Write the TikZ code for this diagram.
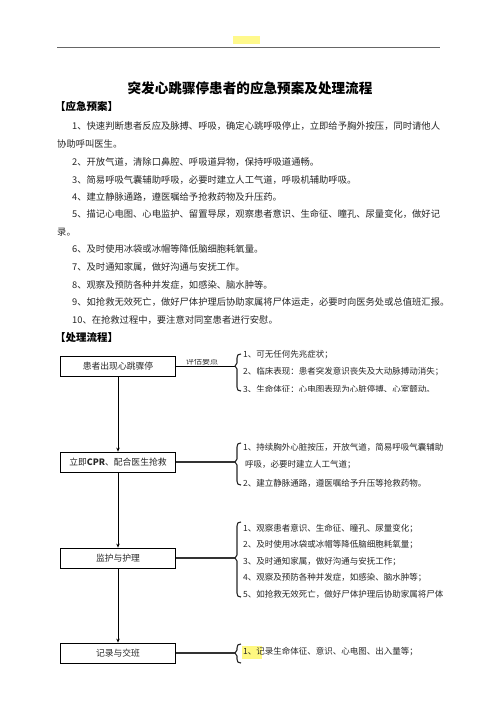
\documentclass[tikz,border=0pt]{standalone}
\usepackage{fontspec}
\setmainfont{Noto Sans CJK SC}
\usetikzlibrary{arrows.meta}
\tikzset{
  body/.style={anchor=west,inner sep=0pt,font=\fontsize{9.3}{11}\selectfont,text=black!85},
  side/.style={anchor=west,inner sep=0pt,font=\fontsize{8.5}{10}\selectfont,text=black!85},
  head/.style={anchor=west,inner sep=0pt,font=\fontsize{10.5}{12}\selectfont\bfseries},
  flowbox/.style={draw,line width=0.8pt,minimum width=115pt,minimum height=20pt,inner sep=0pt,font=\fontsize{8.8}{10}\selectfont,text=black!85},
  link/.style={line width=1.4pt,black!80},
  flowarrow/.style={line width=0.8pt,-{Stealth[length=4pt,width=3.5pt]}},
  bracepath/.style={line width=1.1pt,black!85,line join=round}
}
\newcommand{\mybrace}[4]{% x, top, mid, bottom
  \draw[bracepath] (#1+4,#2) .. controls (#1+1,#2) and (#1,#2+1) .. (#1,#2+4)
    -- (#1,#3-3) -- (#1-2,#3) -- (#1,#3+3) -- (#1,#4-4)
    .. controls (#1,#4-1) and (#1+1,#4) .. (#1+4,#4);}
\begin{document}
\begin{tikzpicture}[x=1pt,y=-1pt]
\useasboundingbox (0,0) rectangle (496,702);
% header
\fill[yellow!45] (233,36) rectangle (260,44);
\draw[line width=0.5pt,black!60] (57,47) -- (440,47);
% title
\node[anchor=center,inner sep=0pt,font=\fontsize{13.6}{15}\selectfont\bfseries] (title) at (250,88) {突发心跳骤停患者的应急预案及处理流程};
\node[head] (h1) at (55,106) {【应急预案】};
\node[body] (l1) at (72,126) {1、快速判断患者反应及脉搏、呼吸，确定心跳呼吸停止，立即给予胸外按压，同时请他人};
\node[body] (l2) at (57,144) {协助呼叫医生。};
\node[body] (l3) at (72,162) {2、开放气道，清除口鼻腔、呼吸道异物，保持呼吸道通畅。};
\node[body] (l4) at (72,180) {3、简易呼吸气囊辅助呼吸，必要时建立人工气道，呼吸机辅助呼吸。};
\node[body] (l5) at (72,197) {4、建立静脉通路，遵医嘱给予抢救药物及升压药。};
\node[body] (l6) at (72,214) {5、描记心电图、心电监护、留置导尿，观察患者意识、生命征、瞳孔、尿量变化，做好记};
\node[body] (l7) at (57,232) {录。};
\node[body] (l8) at (72,249) {6、及时使用冰袋或冰帽等降低脑细胞耗氧量。};
\node[body] (l9) at (72,267) {7、及时通知家属，做好沟通与安抚工作。};
\node[body] (l10) at (72,285) {8、观察及预防各种并发症，如感染、脑水肿等。};
\node[body] (l11) at (72,302) {9、如抢救无效死亡，做好尸体护理后协助家属将尸体运走，必要时向医务处或总值班汇报。};
\node[body] (l12) at (72,320) {10、在抢救过程中，要注意对同室患者进行安慰。};
\node[head] (h2) at (55,338) {【处理流程】};
% flow boxes
\node[flowbox] (b1) at (118,366) {患者出现心跳骤停};
\node[flowbox] (b2) at (118,462) {立即\textbf{CPR}、配合医生抢救};
\node[flowbox] (b3) at (118,558) {监护与护理};
\node[flowbox] (b4) at (118,653) {记录与交班};
\draw[flowarrow] (b1.south) -- (b2.north);
\draw[flowarrow] (b2.south) -- (b3.north);
\draw[flowarrow] (b3.south) -- (b4.north);
% connectors to braces
\coordinate (c1) at (235,366);
\coordinate (c2) at (235,462);
\coordinate (c3) at (235,558);
\coordinate (c4) at (235,653);
\draw[line width=0.8pt] (b1.east) -- (c1);
\draw[link] (b2.east) -- (c2);
\draw[link] (b3.east) -- (c3);
\draw[link] (b4.east) -- (c4);
\begin{scope}
\clip (180,359.5) rectangle (230,365);
\node[anchor=center,inner sep=0pt,font=\fontsize{8}{9}\selectfont,text=black!80] (lab) at (202,361.5) {评估要点};
\end{scope}
% braces
\mybrace{237}{354}{366}{391}
\mybrace{237}{443}{462}{485}
\mybrace{237}{522}{558}{597}
\mybrace{237}{644}{653}{663}
% side texts
\begin{scope}
\clip (240,340) rectangle (460,391);
\node[side] (s11) at (243,355) {1、可无任何先兆症状；};
\node[side] (s12) at (243,372) {2、临床表现：患者突发意识丧失及大动脉搏动消失；};
\node[side] (s13) at (243,389) {3、生命体征：心电图表现为心脏停搏、心室颤动。};
\end{scope}
\begin{scope}
\clip (240,435) rectangle (460,486);
\node[side] (s21) at (243,447) {1、持续胸外心脏按压，开放气道，简易呼吸气囊辅助};
\node[side] (s22) at (245,465) {呼吸，必要时建立人工气道；};
\node[side] (s23) at (243,483) {2、建立静脉通路，遵医嘱给予升压等抢救药物。};
\end{scope}
\node[side] (s31) at (243,529) {1、观察患者意识、生命征、瞳孔、尿量变化；};
\node[side] (s32) at (243,545) {2、及时使用冰袋或冰帽等降低脑细胞耗氧量；};
\node[side] (s33) at (243,562) {3、及时通知家属，做好沟通与安抚工作；};
\node[side] (s34) at (243,578) {4、观察及预防各种并发症，如感染、脑水肿等；};
\node[side] (s35) at (243,594) {5、如抢救无效死亡，做好尸体护理后协助家属将尸体};
\fill[yellow!50] (242,646) rectangle (262,659);
\node[side] (s41) at (243,652) {1、记录生命体征、意识、心电图、出入量等；};
\end{tikzpicture}
\end{document}
